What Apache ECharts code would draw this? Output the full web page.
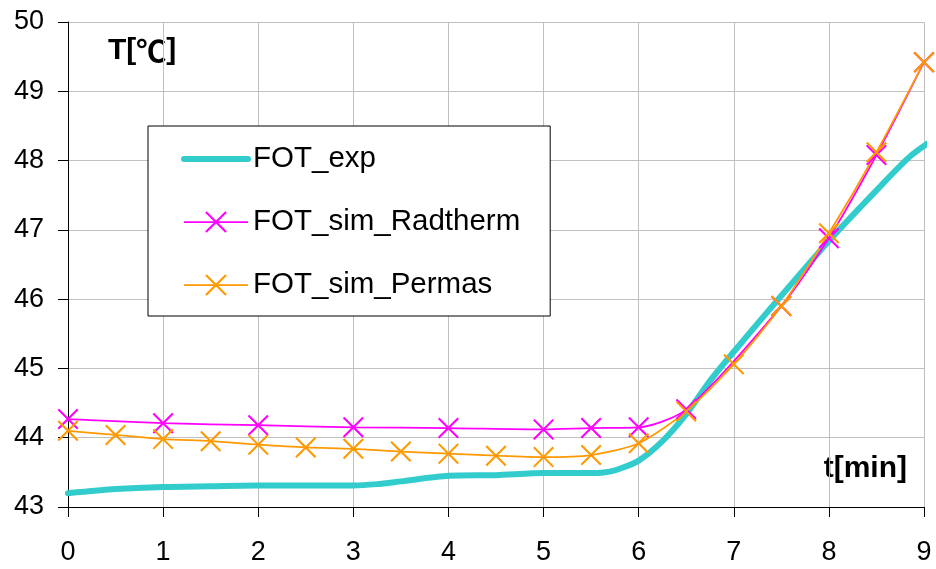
<!DOCTYPE html>
<html><head><meta charset="utf-8">
<script src="https://cdn.jsdelivr.net/npm/echarts@6/dist/echarts.min.js"></script>
<style>html,body{margin:0;padding:0;background:#fff}#c{width:936px;height:569px}</style>
</head><body><div id="c"></div>
<script>
const seriesNames = ['FOT_exp', 'FOT_sim_Radtherm', 'FOT_sim_Permas'];

const expTime = [0, 0.5, 1, 1.5, 2, 2.5, 3, 3.25, 3.5, 4, 4.5, 5, 5.5, 5.75, 6, 6.25, 6.5, 6.75, 7, 7.5, 8, 8.5, 8.87, 9.25];
const expTemp = [43.2, 43.26, 43.29, 43.30, 43.31, 43.31, 43.31, 43.33, 43.37, 43.45, 43.46, 43.49, 43.49, 43.53, 43.67, 43.95, 44.34, 44.82, 45.24, 46.05, 46.84, 47.57, 48.08, 48.44];

const radTime = [0, 1, 2, 3, 4, 5, 5.5, 6, 6.5, 7.5, 8, 8.5, 9];
const radTemp = [44.27, 44.21, 44.18, 44.15, 44.14, 44.12, 44.14, 44.15, 44.41, 45.9, 46.88, 48.08, 49.42];

const perTime = [0, 0.5, 1, 1.5, 2, 2.5, 3, 3.5, 4, 4.5, 5, 5.5, 6, 6.5, 7, 7.5, 8, 8.5, 9];
const perTemp = [44.1, 44.04, 43.98, 43.95, 43.9, 43.86, 43.84, 43.8, 43.77, 43.74, 43.72, 43.75, 43.92, 44.38, 45.06, 45.9, 46.95, 48.12, 49.42];

const xTicks = [0, 1, 2, 3, 4, 5, 6, 7, 8, 9];
const yTicks = [43, 44, 45, 46, 47, 48, 49, 50];
const xTitle = 't[min]';
const yTitleParts = ['T[', '℃', ']'];

const FONT = '"Liberation Sans", Arial, sans-serif';
const X_PATH = 'path://M0,7 L7,0 L100,93 L93,100 Z M93,0 L100,7 L7,100 L0,93 Z';
const zip = (a, b) => a.map((t, i) => [t, b[i]]);

const chart = echarts.init(document.getElementById('c'), null, {renderer: 'canvas'});
const axisCommon = {
  type: 'value',
  interval: 1,
  axisLine: {show: true, lineStyle: {color: '#000', width: 1}},
  axisTick: {show: true, length: 10, lineStyle: {color: '#000', width: 1}},
  splitLine: {show: true, lineStyle: {color: '#c0c0c0', width: 1}},
  axisLabel: {show: true, fontSize: 27, color: '#000', fontFamily: FONT, showMinLabel: true, showMaxLabel: true}
};
const option = {
  animation: false,
  backgroundColor: '#fff',
  grid: {left: 68, right: 12, top: 22, bottom: 62},
  xAxis: Object.assign({}, axisCommon, {
    min: xTicks[0], max: xTicks[xTicks.length - 1],
    axisLabel: Object.assign({}, axisCommon.axisLabel, {margin: 32})
  }),
  yAxis: Object.assign({}, axisCommon, {
    min: yTicks[0], max: yTicks[yTicks.length - 1],
    axisLabel: Object.assign({}, axisCommon.axisLabel, {margin: 24})
  }),
  legend: {
    orient: 'vertical', left: 148, top: 126,
    padding: [18, 30, 16, 33], itemGap: 33, itemWidth: 64, itemHeight: 27,
    backgroundColor: '#fff', borderColor: '#000', borderWidth: 1, borderRadius: 0,
    selectedMode: false,
    textStyle: {fontSize: 29.5, lineHeight: 30, color: '#000', fontFamily: FONT},
    data: [
      {name: seriesNames[0], lineStyle: {width: 6, cap: 'round', color: '#33CCCC'},
       itemStyle: {opacity: 0, color: 'rgba(0,0,0,0)', borderWidth: 0}},
      {name: seriesNames[1], lineStyle: {width: 1.75}},
      {name: seriesNames[2], lineStyle: {width: 1.75}}
    ]
  },
  graphic: [
    {type: 'text', x: 108, y: 51, silent: true,
     style: {
       text: '{a|' + yTitleParts[0] + '}{b|' + yTitleParts[1] + '}{a|' + yTitleParts[2] + '}',
       rich: {
         a: {fontSize: 30, fontWeight: 'bold', fontFamily: FONT, fill: '#000', color: '#000'},
         b: {fontSize: 30, fontWeight: 'bold', fontFamily: '"Noto Sans CJK JP", ' + FONT, fill: '#000', color: '#000'}
       },
       fill: '#000', textAlign: 'left', textVerticalAlign: 'middle', align: 'left', verticalAlign: 'middle'}},
    {type: 'text', x: 907, y: 469, silent: true,
     style: {text: xTitle, fontSize: 30, fontWeight: 'bold', fontFamily: FONT, fill: '#000',
             textAlign: 'right', textVerticalAlign: 'middle', align: 'right', verticalAlign: 'middle'}}
  ],
  series: [
    {name: seriesNames[0], type: 'line', data: zip(expTime, expTemp), symbol: 'none', smooth: 0.25, clip: false,
     lineStyle: {color: '#33CCCC', width: 6, cap: 'round', join: 'round'}, itemStyle: {color: '#33CCCC'},
     emphasis: {disabled: true}},
    {name: seriesNames[1], type: 'line', data: zip(radTime, radTemp), symbol: X_PATH, symbolSize: 21, showAllSymbol: true,
     smooth: 0.25, clip: false,
     lineStyle: {color: '#FF00FF', width: 1.75}, itemStyle: {color: '#FF00FF', borderWidth: 0},
     emphasis: {disabled: true}},
    {name: seriesNames[2], type: 'line', data: zip(perTime, perTemp), symbol: X_PATH, symbolSize: 21, showAllSymbol: true,
     smooth: 0.25, clip: false,
     lineStyle: {color: '#FF9900', width: 1.75}, itemStyle: {color: '#FF9900', borderWidth: 0},
     emphasis: {disabled: true}}
  ]
};
chart.setOption(option);
</script>
</body></html>
